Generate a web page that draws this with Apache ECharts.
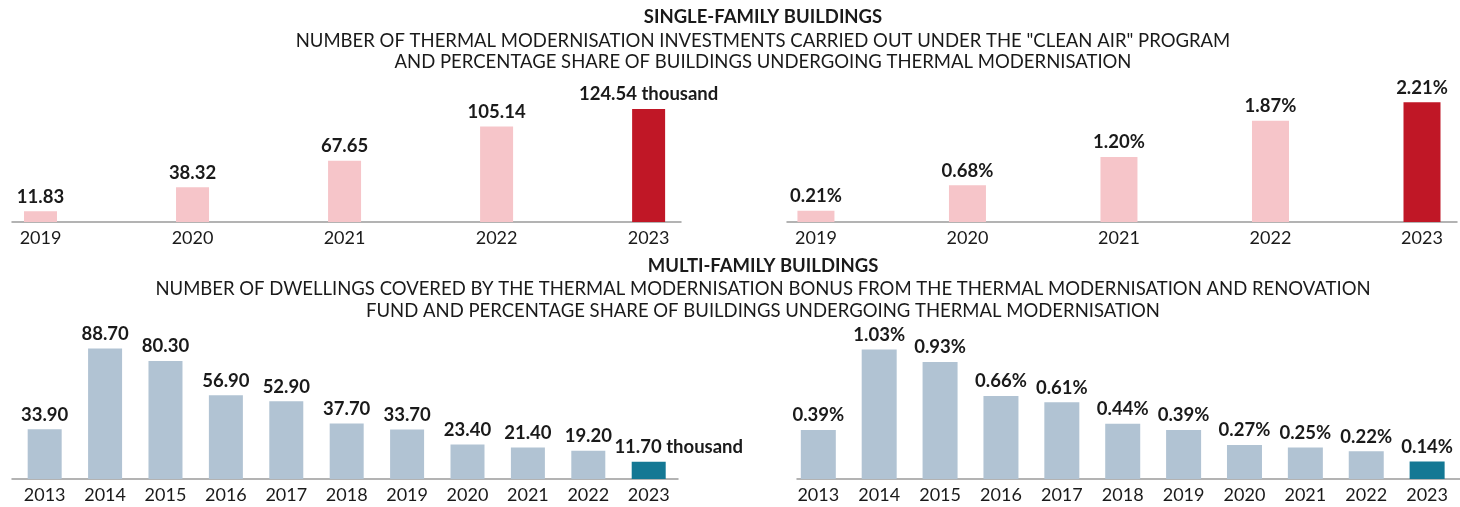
<!DOCTYPE html>
<html>
<head>
<meta charset="utf-8">
<script src="https://cdn.jsdelivr.net/npm/echarts@6/dist/echarts.min.js"></script>
<style>
  html, body { margin: 0; padding: 0; background: #fff; }
  #chart { width: 1460px; height: 507px; }
</style>
</head>
<body>
<div id="chart"></div>
<script>
// data
const singleYears = ["2019", "2020", "2021", "2022", "2023"];
const singleInvestments = [11.83, 38.32, 67.65, 105.14, 124.54]; // thousand
const singleShare = [0.21, 0.68, 1.20, 1.87, 2.21]; // %

const multiYears = ["2013", "2014", "2015", "2016", "2017", "2018", "2019", "2020", "2021", "2022", "2023"];
const multiDwellings = [33.90, 88.70, 80.30, 56.90, 52.90, 37.70, 33.70, 23.40, 21.40, 19.20, 11.70]; // thousand
const multiShare = [0.39, 1.03, 0.93, 0.66, 0.61, 0.44, 0.39, 0.27, 0.25, 0.22, 0.14]; // %

const FONT = "Lato";
const TEXT = "#1a1a1a";

const chart = echarts.init(document.getElementById("chart"));

// one panel = one grid with a value x axis (bars sit on the category index)
const panels = [
  { years: singleYears, vals: singleInvestments, grid: { left: 12, width: 669, top: 95, bottom: 285 },
    xMin: -0.1875, xMax: 4.213, yMax: 140, barWidth: 33, light: "#f6c5c9", dark: "#c01726",
    fmt: (v, last) => v.toFixed(2) + (last ? " thousand" : ""), lastOffset: [0, 0] },
  { years: singleYears, vals: singleShare, grid: { left: 787, width: 670, top: 92, bottom: 285 },
    xMin: -0.191, xMax: 4.231, yMax: 2.4, barWidth: 37, light: "#f6c5c9", dark: "#c01726",
    fmt: v => v.toFixed(2) + "%", lastOffset: [0, 0] },
  { years: multiYears, vals: multiDwellings, grid: { left: 12, width: 666, top: 332, bottom: 28 },
    xMin: -0.541, xMax: 10.485, yMax: 100, barWidth: 34, light: "#b1c3d3", dark: "#147894",
    fmt: (v, last) => v.toFixed(2) + (last ? " thousand" : ""), lastOffset: [30, 0] },
  { years: multiYears, vals: multiShare, grid: { left: 797, width: 669, top: 328, bottom: 28 },
    xMin: -0.35, xMax: 10.54, yMax: 1.2, barWidth: 35, light: "#b1c3d3", dark: "#147894",
    fmt: v => v.toFixed(2) + "%", lastOffset: [0, 0] }
];

const titleStyle = { fontFamily: FONT, fontSize: 18.5, color: TEXT, fontWeight: "normal" };
const titles = [
  { text: "SINGLE-FAMILY BUILDINGS", top: 8, bold: true },
  { text: "NUMBER OF THERMAL MODERNISATION INVESTMENTS CARRIED OUT UNDER THE \"CLEAN AIR\" PROGRAM", top: 32 },
  { text: "AND PERCENTAGE SHARE OF BUILDINGS UNDERGOING THERMAL MODERNISATION", top: 53 },
  { text: "MULTI-FAMILY BUILDINGS", top: 257, bold: true },
  { text: "NUMBER OF DWELLINGS COVERED BY THE THERMAL MODERNISATION BONUS FROM THE THERMAL MODERNISATION AND RENOVATION", top: 280 },
  { text: "FUND AND PERCENTAGE SHARE OF BUILDINGS UNDERGOING THERMAL MODERNISATION", top: 302 }
];

const option = {
  backgroundColor: "#fff",
  animation: false,
  title: titles.map(t => ({
    text: t.text, left: 763, top: t.top, textAlign: "center", padding: 0,
    textStyle: Object.assign({}, titleStyle, t.bold ? { fontWeight: "bold" } : {})
  })),
  grid: panels.map(p => p.grid),
  xAxis: panels.map((p, i) => ({
    type: "value",
    gridIndex: i,
    min: p.xMin,
    max: p.xMax,
    splitLine: { show: false },
    axisTick: { show: false },
    axisLine: { show: true, onZero: false, lineStyle: { color: "#9b9b9b", width: 1.5 } },
    axisLabel: {
      customValues: p.years.map((_, k) => k),
      formatter: v => p.years[Math.round(v)],
      margin: 7,
      fontFamily: FONT,
      fontSize: 18,
      color: TEXT
    }
  })),
  yAxis: panels.map((p, i) => ({
    type: "value", gridIndex: i, min: 0, max: p.yMax, show: false
  })),
  series: panels.map((p, i) => {
    const last = p.vals.length - 1;
    return {
      type: "bar",
      xAxisIndex: i,
      yAxisIndex: i,
      barWidth: p.barWidth,
      itemStyle: { color: params => (params.dataIndex === last ? p.dark : p.light) },
      label: {
        show: true,
        position: "top",
        distance: 5,
        fontFamily: FONT,
        fontWeight: "bold",
        fontSize: 18.5,
        color: TEXT,
        formatter: params => p.fmt(params.value[1], params.dataIndex === last)
      },
      data: p.vals.map((v, k) => (k === last
        ? { value: [k, v], label: { offset: p.lastOffset } }
        : { value: [k, v] }))
    };
  })
};

chart.setOption(option);
window.addEventListener("resize", () => chart.resize());
</script>
</body>
</html>
